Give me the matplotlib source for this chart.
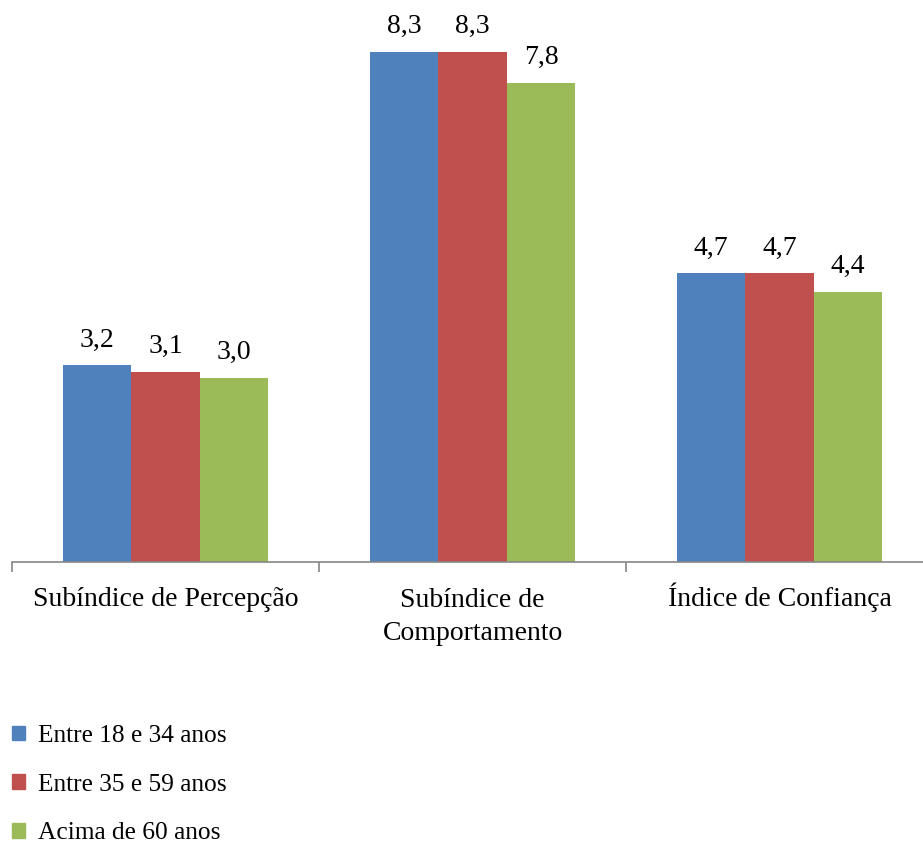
import matplotlib
matplotlib.use("Agg")
import matplotlib.pyplot as plt
from matplotlib.patches import Patch
import numpy as np

# Chart data
categories = ["Subíndice de Percepção", "Subíndice de\nComportamento", "Índice de Confiança"]
series_names = ["Entre 18 e 34 anos", "Entre 35 e 59 anos", "Acima de 60 anos"]
age_18_34 = [3.2, 8.3, 4.7]
age_35_59 = [3.1, 8.3, 4.7]
age_60_plus = [3.0, 7.8, 4.4]

colors = ["#4F81BD", "#C0504D", "#9BBB59"]

plt.rcParams["font.family"] = ["Liberation Serif", "DejaVu Serif"]
FS = 20
LEG_FS = 18.3

W, H = 923, 841
fig = plt.figure(figsize=(W / 100, H / 100), dpi=100)

# axes spans 12px..933px horizontally (right end runs off the canvas)
ax_left, ax_right = 12, 933
ax_bottom, ax_top = 562, 9
ax = fig.add_axes([ax_left / W, (H - ax_bottom) / H,
                   (ax_right - ax_left) / W, (ax_bottom - ax_top) / H])

x = np.arange(len(categories)) + 0.5
width = 0.223
for i, (vals, name) in enumerate(zip([age_18_34, age_35_59, age_60_plus], series_names)):
    bars = ax.bar(x + (i - 1) * width, vals, width, color=colors[i], label=name)
    for b, v in zip(bars, vals):
        ax.annotate(f"{v:.1f}".replace(".", ","),
                    (b.get_x() + b.get_width() / 2, v),
                    xytext=(0, 13.5), textcoords="offset points",
                    ha="center", va="baseline", fontsize=FS)

ax.set_xlim(0, 3)
ax.set_ylim(0, 9)
ax.set_yticks([])
for s in ["left", "right", "top"]:
    ax.spines[s].set_visible(False)
ax.spines["bottom"].set_color("#868686")
ax.spines["bottom"].set_linewidth(1.2)

ax.set_xticks([0, 1, 2, 3])
ax.set_xticklabels([])
ax.tick_params(axis="x", direction="out", length=7, width=1.2, color="#868686")

# baseline alignment of multi-line text follows the last line,
# so push extra lines down by one line step each
line_step = 23.8  # points
for xi, cat in zip(x, categories):
    extra = cat.count("\n")
    ax.annotate(cat, (xi, 0), xytext=(0, -32 - extra * line_step),
                textcoords="offset points", ha="center", va="baseline",
                fontsize=FS, linespacing=1.37)

handles = [Patch(color=c) for c in colors]
fig.legend(handles, series_names, loc="upper left",
           bbox_to_anchor=(12 / W, 1 - 725 / H), frameon=False, fontsize=LEG_FS,
           handlelength=0.52, handleheight=0.52, handletextpad=0.52,
           labelspacing=1.05, borderaxespad=0, borderpad=0)

fig.savefig("out.png", dpi=100)
